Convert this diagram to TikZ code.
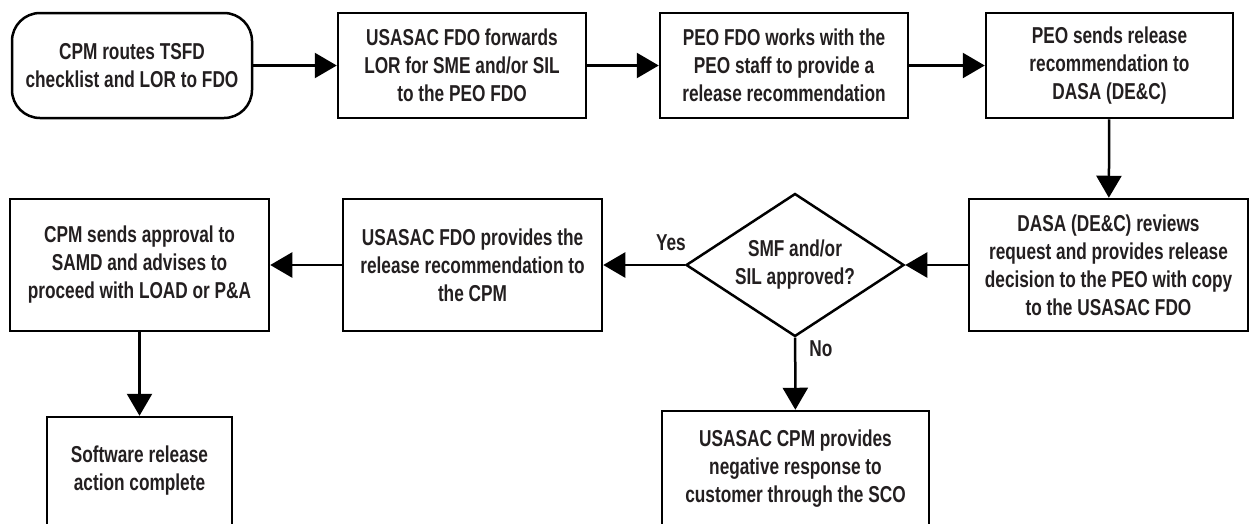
\documentclass[tikz,border=0pt]{standalone}
\usepackage{fontspec}
\newfontfamily\flowfont[FakeStretch=0.75]{Liberation Sans}
\usetikzlibrary{arrows.meta,shapes.geometric}
\definecolor{ink}{HTML}{231F20}

\begin{document}
\begin{tikzpicture}[x=1pt,y=-1pt,
    every node/.style={text=ink,font=\flowfont\bfseries\fontsize{23}{28}\selectfont},
    main node/.style={rectangle,draw,line width=2.5pt,align=center,inner sep=0pt},
    start node/.style={main node,rounded corners=28pt,minimum width=240pt,minimum height=105pt},
    top node/.style={main node,minimum width=248pt,minimum height=105pt},
    mid node/.style={main node,minimum width=259pt,minimum height=132pt},
    decision/.style={diamond,draw,line width=2.5pt,aspect=1.52,inner sep=0pt,
        minimum width=218pt,minimum height=143pt,align=center},
    every edge/.style={draw,line width=2.5pt,-{Triangle[length=22pt,width=25pt]}},
    label node/.style={inner sep=0pt}]
    \useasboundingbox (0,0) rectangle (1249,523);
    \clip (0,0) rectangle (1249,523);

    \node[start node] at (132,65.5) (start) {CPM routes TSFD\\checklist and LOR to FDO};
    \node[top node] at (462,65.5) (fwd) {USASAC FDO forwards\\LOR for SME and/or SIL\\to the PEO FDO};
    \node[top node] at (784,65.5) (works) {PEO FDO works with the\\PEO staff to provide a\\release recommendation};
    \node[top node,minimum width=247pt] at (1109.5,65.5) (sends) {PEO sends release\\recommendation to\\DASA (DE\&C)};

    \node[mid node,minimum width=279pt] at (1108.5,265) (dasa) {DASA (DE\&C) reviews\\request and provides release\\decision to the PEO with copy\\to the USASAC FDO};
    \node[decision] at (795,265) (check) {SMF and/or\\SIL approved?};
    \node[mid node] at (472.5,265) (prov) {USASAC FDO provides the\\release recommendation to\\the CPM};
    \node[mid node] at (139.5,265) (cpms) {CPM sends approval to\\SAMD and advises to\\proceed with LOAD or P\&A};

    \node[main node,minimum width=185pt,minimum height=108pt] at (139.5,471) (done) {Software release\\action complete};
    \node[main node,minimum width=267pt,minimum height=116pt] at (795.5,469) (neg) {USASAC CPM provides\\negative response to\\customer through the SCO};

    \path
        (start) edge (fwd)
        (fwd) edge (works)
        (works) edge (sends)
        (sends) edge (dasa)
        (dasa) edge (check)
        (check) edge node[label node,pos=0.17,above=13pt] {Yes} (prov)
        (prov) edge (cpms)
        (cpms) edge (done)
        (check) edge node[label node,pos=0.15,right=13pt] {No} (neg)
        ;
\end{tikzpicture}
\end{document}
